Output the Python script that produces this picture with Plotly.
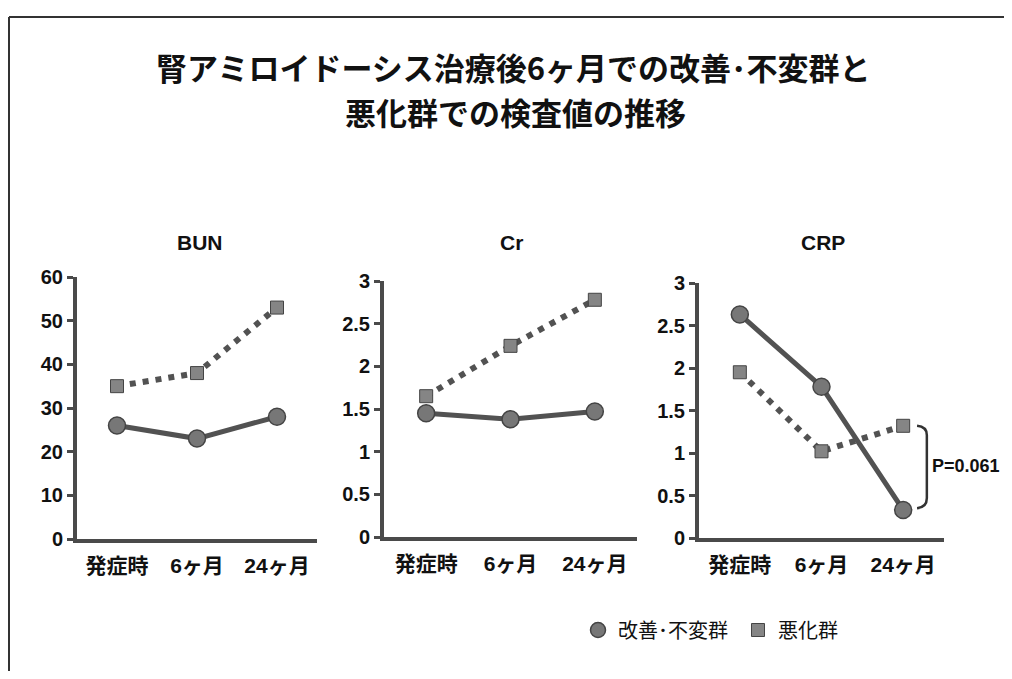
import plotly.graph_objects as go

categories = ["発症時", "6ヶ月", "24ヶ月"]
panels = ["BUN", "Cr", "CRP"]
improved = {
    "BUN": [26, 23, 28],
    "Cr": [1.45, 1.38, 1.47],
    "CRP": [2.63, 1.78, 0.33],
}
worsened = {
    "BUN": [35, 38, 53],
    "Cr": [1.65, 2.24, 2.78],
    "CRP": [1.95, 1.02, 1.32],
}
y_ranges = {"BUN": [0, 60], "Cr": [0, 3], "CRP": [0, 3]}
y_dtick = {"BUN": 10, "Cr": 0.5, "CRP": 0.5}
y_ticklabels = {
    "BUN": ["0", "10", "20", "30", "40", "50", "60"],
    "Cr": ["0", "0.5", "1", "1.5", "2", "2.5", "3"],
    "CRP": ["0", "0.5", "1", "1.5", "2", "2.5", "3"],
}
legend_names = ["改善･不変群", "悪化群"]
title_lines = ["腎アミロイドーシス治療後6ヶ月での改善･不変群と", "悪化群での検査値の推移"]
p_text = "P=0.061"

# the page body has an 8px margin on every side; size the figure so the page
# exactly fills the 1012x679 window (no scrolling, no rescaling)
OFF = 8
W, H = 1012 - 2 * OFF, 679 - 2 * OFF


def px(x):
    return (x - OFF) / W


def py(y):
    return 1 - (y - OFF) / H


FONT = "Liberation Sans, Arial, Noto Sans CJK JP, sans-serif"
AX = "#4a4a4a"
LINE = "#525252"
MFILL = "#777777"
SFILL = "#858585"

x_domains = [[px(77), px(317)], [px(384), px(637)], [px(699), px(944)]]
y_domains = [[py(539), py(277)], [py(537), py(281)], [py(538), py(283)]]
title_x = [200, 512, 823]

fig = go.Figure()
for i, p in enumerate(panels):
    xa = "x" if i == 0 else f"x{i+1}"
    ya = "y" if i == 0 else f"y{i+1}"
    fig.add_trace(go.Scatter(
        x=categories, y=worsened[p], mode="lines+markers", xaxis=xa, yaxis=ya,
        line=dict(color=LINE, width=6, dash="6px,7px"),
        marker=dict(symbol="square", size=13, color=SFILL, line=dict(color="#444", width=1)),
        showlegend=False, hoverinfo="skip"))
    fig.add_trace(go.Scatter(
        x=categories, y=improved[p], mode="lines+markers", xaxis=xa, yaxis=ya,
        line=dict(color=LINE, width=5),
        marker=dict(symbol="circle", size=17, color=MFILL, line=dict(color="#444", width=1.5)),
        showlegend=False, hoverinfo="skip"))

# legend entries (marker only)
fig.add_trace(go.Scatter(x=[None], y=[None], mode="markers", name=legend_names[0],
                         marker=dict(symbol="circle", size=15, color=MFILL, line=dict(color="#444", width=1.5))))
fig.add_trace(go.Scatter(x=[None], y=[None], mode="markers", name=legend_names[1],
                         marker=dict(symbol="square", size=13, color=SFILL, line=dict(color="#444", width=1))))

layout = dict(
    width=W, height=H,
    margin=dict(l=0, r=0, t=0, b=0, autoexpand=False),
    paper_bgcolor="white", plot_bgcolor="white",
    font=dict(family=FONT, color="#111"),
    showlegend=True,
    legend=dict(orientation="h", x=px(578), y=py(630), xanchor="left", yanchor="middle",
                font=dict(size=20, family=FONT, color="#111"), itemwidth=30,
                entrywidth=115, entrywidthmode="pixels",
                bgcolor="rgba(0,0,0,0)"),
)
for i, p in enumerate(panels):
    sx = "" if i == 0 else str(i + 1)
    n = len(y_ticklabels[p])
    layout[f"xaxis{sx}"] = dict(
        domain=x_domains[i], anchor=f"y{sx}", type="category", range=[-0.5, 2.5],
        showgrid=False, zeroline=False, showline=True, linecolor=AX, linewidth=4,
        ticks="", ticklabelstandoff=5, tickfont=dict(size=21, family=FONT, color="#111"),
        ticktext=[f"<b>{c}</b>" for c in categories], tickvals=categories,
        automargin=False, fixedrange=True)
    layout[f"yaxis{sx}"] = dict(
        domain=y_domains[i], anchor=f"x{sx}", range=y_ranges[p],
        tickvals=[k * y_dtick[p] for k in range(n)],
        ticktext=[f"<b>{t}</b>" for t in y_ticklabels[p]],
        showgrid=False, zeroline=False, showline=True, linecolor=AX, linewidth=4,
        ticks="outside", ticklen=6, tickwidth=3, tickcolor=AX,
        tickfont=dict(size=20, family=FONT, color="#111"), automargin=False, fixedrange=True)
fig.update_layout(**layout)

annotations = [
    dict(text=f"<b>{title_lines[0]}</b>", x=px(513), y=py(66), xref="paper", yref="paper",
         xanchor="center", yanchor="middle",
         showarrow=False, font=dict(size=31, family="Noto Sans CJK JP, sans-serif", color="#111")),
    dict(text=f"<b>{title_lines[1]}</b>", x=px(515), y=py(111), xref="paper", yref="paper",
         xanchor="center", yanchor="middle",
         showarrow=False, font=dict(size=31, family="Noto Sans CJK JP, sans-serif", color="#111")),
]
for i, p in enumerate(panels):
    annotations.append(dict(text=f"<b>{p}</b>", x=px(title_x[i]), y=py(242), xref="paper", yref="paper",
                            xanchor="center", yanchor="middle",
                            showarrow=False, font=dict(size=21, family=FONT, color="#111")))
annotations.append(dict(text=f"<b>{p_text}</b>", x=px(931), y=py(466), xref="paper", yref="paper",
                        xanchor="left", yanchor="middle", showarrow=False, borderpad=0,
                        font=dict(size=18, family=FONT, color="#111")))
fig.update_layout(annotations=annotations)

# bracket for P-value (in CRP data coordinates)
top_v = worsened["CRP"][2]
bot_v = improved["CRP"][2]
path = (f"M 2.17,{top_v} Q 2.29,{top_v - 0.01} 2.29,{top_v - 0.11} "
        f"L 2.29,{bot_v + 0.14} Q 2.29,{bot_v + 0.03} 2.17,{bot_v + 0.02}")
shapes = [
    dict(type="path", path=path, xref="x3", yref="y3", line=dict(color="#333", width=2.5)),
    # outer frame
    dict(type="line", xref="paper", yref="paper", x0=px(9), x1=1.0, y0=py(17), y1=py(17),
         line=dict(color="#333", width=2)),
    dict(type="line", xref="paper", yref="paper", x0=px(9), x1=px(9), y0=py(17), y1=0,
         line=dict(color="#333", width=2)),
]
fig.update_layout(shapes=shapes)

fig.write_html("out.html")
